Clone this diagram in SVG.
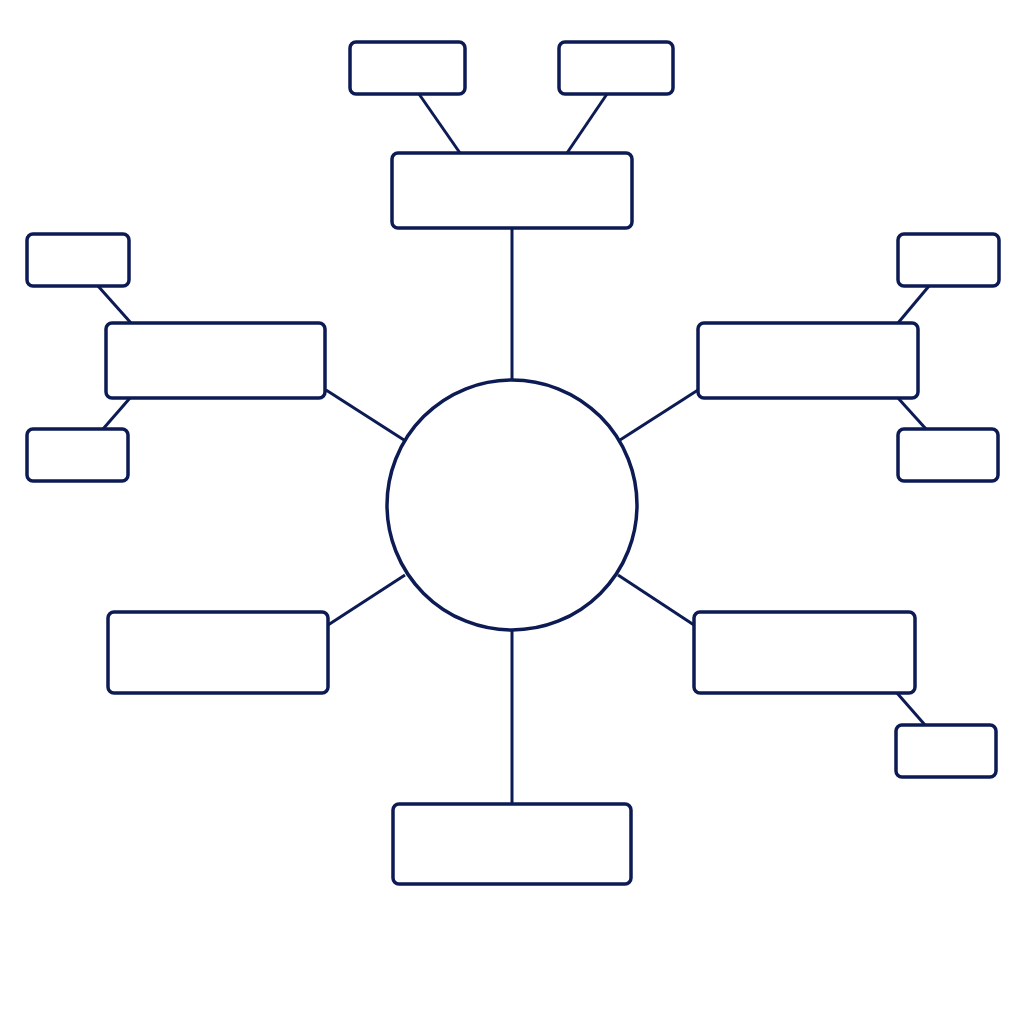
<svg xmlns="http://www.w3.org/2000/svg" width="1024" height="1024" viewBox="0 0 1024 1024">
<style>
.n{fill:#ffffff;stroke:#0d1b54;stroke-width:3.5}
.c{stroke:#0d1b54;stroke-width:3;fill:none}
</style>
<rect width="1024" height="1024" fill="#ffffff"/>
<g id="connectors">
<line class="c" x1="419" y1="94" x2="460" y2="153"/>
<line class="c" x1="607" y1="94" x2="567" y2="153"/>
<line class="c" x1="512" y1="228" x2="512" y2="380"/>
<line class="c" x1="98" y1="286" x2="131" y2="323"/>
<line class="c" x1="130" y1="398" x2="103" y2="429"/>
<line class="c" x1="326" y1="390" x2="404" y2="440"/>
<line class="c" x1="929" y1="286" x2="898" y2="323"/>
<line class="c" x1="898" y1="398" x2="926" y2="429"/>
<line class="c" x1="698" y1="390" x2="620" y2="440"/>
<line class="c" x1="328" y1="625" x2="405" y2="575"/>
<line class="c" x1="694" y1="625" x2="618" y2="575"/>
<line class="c" x1="897" y1="693" x2="925" y2="725"/>
<line class="c" x1="512" y1="630" x2="512" y2="804"/>
</g>
<g id="center"><circle class="n" cx="512" cy="505" r="125"/></g>
<g id="top"><rect class="n" x="392" y="153" width="240" height="75" rx="6"/></g>
<g id="top-left-leaf"><rect class="n" x="350" y="42" width="115" height="52" rx="6"/></g>
<g id="top-right-leaf"><rect class="n" x="559" y="42" width="114" height="52" rx="6"/></g>
<g id="left"><rect class="n" x="106" y="323" width="219" height="75" rx="6"/></g>
<g id="left-top-leaf"><rect class="n" x="27" y="234" width="102" height="52" rx="6"/></g>
<g id="left-bottom-leaf"><rect class="n" x="27" y="429" width="101" height="52" rx="6"/></g>
<g id="right"><rect class="n" x="698" y="323" width="220" height="75" rx="6"/></g>
<g id="right-top-leaf"><rect class="n" x="898" y="234" width="101" height="52" rx="6"/></g>
<g id="right-bottom-leaf"><rect class="n" x="898" y="429" width="100" height="52" rx="6"/></g>
<g id="bottom-left"><rect class="n" x="108" y="612" width="220" height="81" rx="6"/></g>
<g id="bottom-right"><rect class="n" x="694" y="612" width="221" height="81" rx="6"/></g>
<g id="bottom-right-leaf"><rect class="n" x="896" y="725" width="100" height="52" rx="6"/></g>
<g id="bottom"><rect class="n" x="393" y="804" width="238" height="80" rx="6"/></g>
</svg>
